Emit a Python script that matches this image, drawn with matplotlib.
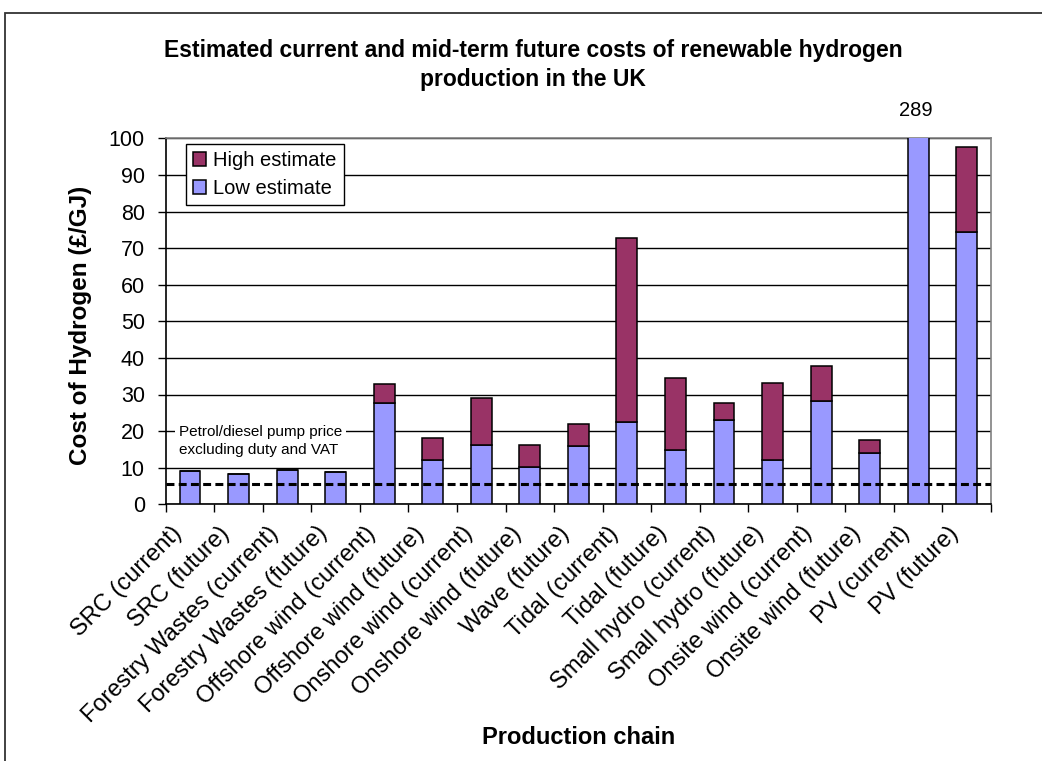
import matplotlib
matplotlib.use("Agg")
import matplotlib.pyplot as plt
from matplotlib.patches import Rectangle

plt.rcParams['font.family'] = ['Liberation Sans', 'DejaVu Sans']

# Production chains and their estimated hydrogen costs (GBP per GJ)
chains = ["SRC (current)", "SRC (future)", "Forestry Wastes (current)",
          "Forestry Wastes (future)", "Offshore wind (current)",
          "Offshore wind (future)", "Onshore wind (current)",
          "Onshore wind (future)", "Wave (future)", "Tidal (current)",
          "Tidal (future)", "Small hydro (current)", "Small hydro (future)",
          "Onsite wind (current)", "Onsite wind (future)", "PV (current)",
          "PV (future)"]
low_estimate = [9.2, 8.3, 9.5, 8.7, 27.8, 12.1, 16.2, 10.1, 15.8, 22.6,
                14.7, 23.0, 12.0, 28.3, 13.9, 289, 74.5]
high_estimate = [9.2, 8.3, 9.5, 8.7, 32.9, 18.2, 29.1, 16.3, 21.9, 72.7,
                 34.4, 27.6, 33.2, 37.8, 17.7, 289, 97.5]
pump_price = 5.5
y_ticks = list(range(0, 101, 10))

W, H = 1042, 761
fig = plt.figure(figsize=(W / 100, H / 100), dpi=100)
fig.patch.set_facecolor("white")

# outer chart frame
fig.patches.append(Rectangle((4.5 / W, -0.1), 1.2, 1 - 13 / H + 0.1,
                             transform=fig.transFigure, fill=False,
                             edgecolor="#333333", linewidth=1.3))

left, right, top, bottom = 165.7, 991, 138.3, 504.3
ax = fig.add_axes([left / W, 1 - bottom / H, (right - left) / W, (bottom - top) / H])

x = list(range(len(chains)))
upper = [h - l for h, l in zip(high_estimate, low_estimate)]

ax.bar(x, low_estimate, width=0.43, color="#9999FF", edgecolor="black",
       linewidth=1.1, label="Low estimate", zorder=3)
ax.bar(x, upper, bottom=low_estimate, width=0.43, color="#993366",
       edgecolor="black", linewidth=1.1, label="High estimate", zorder=3)

ax.set_xlim(-0.5, len(chains) - 0.5)
ax.set_ylim(0, 100)

# value label for the off-scale bar
for i, v in enumerate(high_estimate):
    if v > 100:
        ax.annotate(f"{v:g}", xy=(i, 100), xytext=(-2, 13),
                    textcoords="offset points", ha="center", va="bottom",
                    fontsize=14.5, annotation_clip=False)

# pump price reference line
ax.axhline(pump_price, color="black", linewidth=2.2, linestyle=(0, (2.6, 1.4)),
           zorder=4)
ax.text(-0.226, 17.3, "Petrol/diesel pump price\nexcluding duty and VAT",
        ha="left", va="center", fontsize=11, linespacing=1.45, zorder=5,
        bbox=dict(facecolor="white", edgecolor="none", pad=3))

# gridlines and spines
ax.set_yticks(y_ticks)
ax.yaxis.grid(True, color="black", linewidth=1.0, zorder=0)
ax.set_axisbelow(True)
for s in ("top", "right"):
    ax.spines[s].set_color("#808080")
    ax.spines[s].set_linewidth(1.2)
for s in ("left", "bottom"):
    ax.spines[s].set_color("black")
    ax.spines[s].set_linewidth(1.2)

ax.tick_params(axis="y", direction="out", length=6, width=1.0, pad=9,
               labelsize=15.5)

# category tick marks sit between bars; labels are rotated below each bar
ax.set_xticks([i - 0.5 for i in range(len(chains) + 1)])
ax.set_xticklabels([])
ax.tick_params(axis="x", direction="out", length=6, width=1.0)
for i, name in enumerate(chains):
    ax.annotate(name, xy=(i, 0), xytext=(-8.6, -18.5), textcoords="offset points",
                ha="right", va="center", rotation=45, rotation_mode="anchor",
                fontsize=17, annotation_clip=False)

ax.set_ylabel("Cost of Hydrogen (£/GJ)", fontsize=17.5, fontweight="bold")
ax.yaxis.label.set_va("center")
ax.yaxis.set_label_coords((81 - left) / (right - left), 0.49)
ax.set_xlabel("Production chain", fontsize=17, fontweight="bold")
ax.xaxis.label.set_va("center")
ax.xaxis.set_label_coords(0.5, (bottom - 738) / (bottom - top))

fig.text(533 / W, 1 - 65 / H,
         "Estimated current and mid-term future costs of renewable hydrogen\nproduction in the UK",
         ha="center", va="center", fontsize=16.5, fontweight="bold", linespacing=1.3)

handles, labels = ax.get_legend_handles_labels()
leg = ax.legend(handles[::-1], labels[::-1], loc="upper left",
                bbox_to_anchor=((186 - left) / (right - left), (bottom - 144) / (bottom - top)),
                borderaxespad=0, fontsize=14.5, frameon=True, fancybox=False,
                edgecolor="black", framealpha=1, handlelength=0.65,
                handleheight=0.65, handletextpad=0.35, labelspacing=0.45,
                borderpad=0.35)
leg.get_frame().set_linewidth(1.0)
leg.set_zorder(6)

fig.savefig("out.png", dpi=100)
